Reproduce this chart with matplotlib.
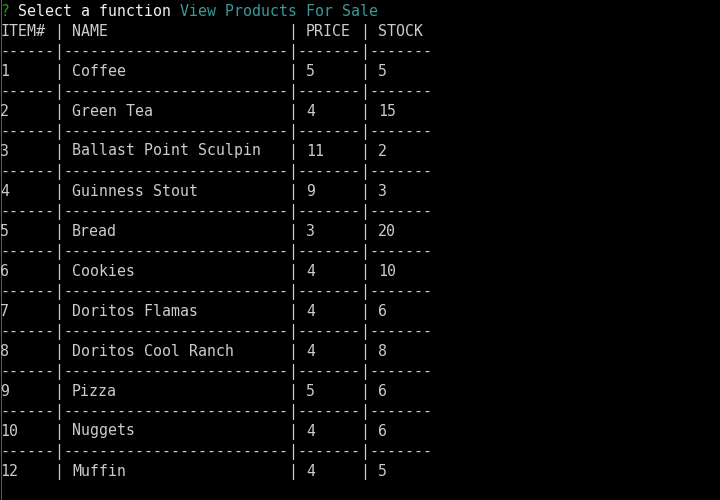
import matplotlib
matplotlib.use("Agg")
import matplotlib.pyplot as plt

# ---- data ----
item_ids = ["1", "2", "3", "4", "5", "6", "7", "8", "9", "10", "12"]
names = ["Coffee", "Green Tea", "Ballast Point Sculpin", "Guinness Stout", "Bread",
         "Cookies", "Doritos Flamas", "Doritos Cool Ranch", "Pizza", "Nuggets", "Muffin"]
prices = [5, 4, 11, 9, 3, 4, 4, 4, 5, 4, 4]
stocks = [5, 15, 2, 3, 20, 10, 6, 8, 6, 6, 5]
headers = ["ITEM#", "NAME", "PRICE", "STOCK"]
prompt_q = "?"
prompt_msg = "Select a function"
prompt_answer = "View Products For Sale"

# ---- layout ----
W, H = 720, 500
CW = 9.0        # character advance in px
LH = 20.0       # line height in px
FONT = "DejaVu Sans Mono"
FS = CW / 0.602 * 72 / 100   # font size in pt so advance == CW px
FG = "#cccccc"
BRIGHT = "#f2f2f2"
GREEN = "#16a016"
TEAL = "#3a9a9a"

# column starts (in characters)
col_pipe = [6, 32, 40]
col_text = [0, 8, 34, 42]
dash_runs = [(0, 6), (7, 25), (33, 7), (41, 7)]

fig = plt.figure(figsize=(W / 100, H / 100), dpi=100, facecolor="black")
ax = fig.add_axes([0, 0, 1, 1])
ax.set_facecolor("black")
ax.set_xlim(0, W)
ax.set_ylim(H, 0)
ax.axis("off")


def put(col, line, s, color=FG):
    base = LH * line + LH / 2 + 5.5
    ax.text(col * CW, base, s, color=color, family=FONT, fontsize=FS,
            ha="left", va="baseline")


def pipes(line):
    for c in col_pipe:
        put(c, line, "|")


def dashes(line):
    for start, n in dash_runs:
        put(start, line, "-" * n)
    pipes(line)


# prompt line
put(0, 0, prompt_q, GREEN)
put(2, 0, prompt_msg, BRIGHT)
put(2 + len(prompt_msg) + 1, 0, prompt_answer, TEAL)

# header
for c, h in zip(col_text, headers):
    put(c, 1, h)
pipes(1)

line = 2
for i in range(len(item_ids)):
    dashes(line)
    line += 1
    row = [item_ids[i], names[i], str(prices[i]), str(stocks[i])]
    for c, v in zip(col_text, row):
        put(c, line, v)
    pipes(line)
    line += 1

# thin window border on the left edge
ax.plot([0.5, 0.5], [0, H], color="#a8305e", linewidth=0.72)

fig.savefig("out.png", dpi=100, facecolor="black")
